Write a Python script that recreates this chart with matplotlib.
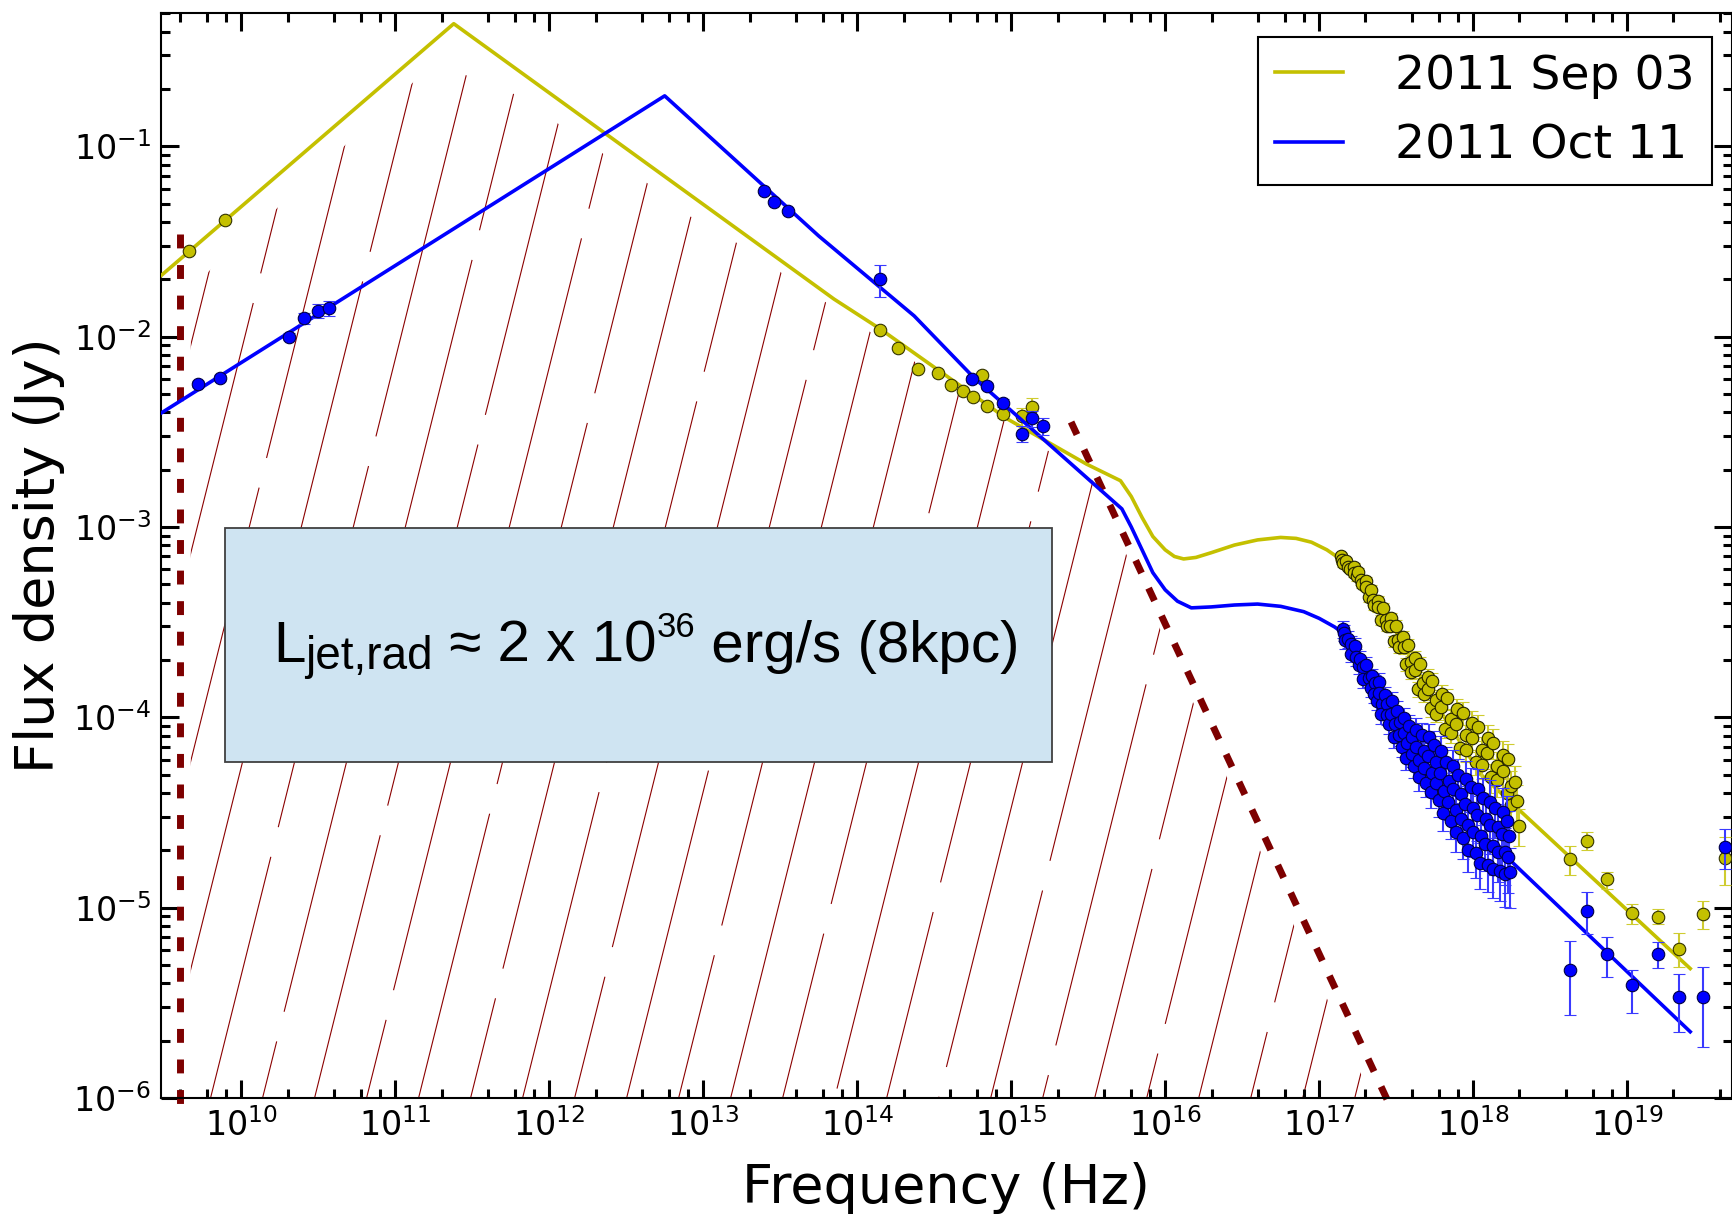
import numpy as np
import matplotlib
matplotlib.use('Agg')
from matplotlib import pyplot as plt
from matplotlib.patches import Polygon, Rectangle
from matplotlib.lines import Line2D
from matplotlib.ticker import LogLocator, NullFormatter

plt.rcParams['font.family'] = ['DejaVu Sans']
plt.rcParams['lines.scale_dashes'] = False

YEL = '#c4c000'
BLU = '#0000ff'
MAROON = '#7d0000'

#### model curves: log10(nu / Hz), log10(S / Jy) ####
sep_model_lognu = [9.477, 11.38, 13.85, 14.15, 14.97, 15.49, 15.71, 15.78, 15.85, 15.92, 16.0, 16.06,
                   16.12, 16.2, 16.3, 16.45, 16.6, 16.75, 16.85, 16.95, 17.05, 17.14, 17.22, 17.3,
                   17.5, 17.75, 18.05, 19.41]
sep_model_logS = [-1.681, -0.356, -1.803, -1.96, -2.43, -2.67, -2.757, -2.84, -2.95, -3.05, -3.12, -3.155,
                  -3.168, -3.16, -3.135, -3.095, -3.068, -3.055, -3.06, -3.08, -3.12, -3.17, -3.25, -3.34,
                  -3.55, -3.92, -4.30, -5.32]
oct_model_lognu = [9.477, 12.75, 13.75, 14.37, 14.756, 15.719, 15.78, 15.85, 15.92, 16.0, 16.08, 16.17,
                   16.3, 16.45, 16.6, 16.75, 16.9, 17.0, 17.1, 17.16, 17.4, 17.62, 17.85, 18.2, 19.41]
oct_model_logS = [-2.403, -0.735, -1.471, -1.891, -2.214, -2.905, -3.0, -3.12, -3.24, -3.33, -3.39, -3.425,
                  -3.42, -3.41, -3.405, -3.417, -3.445, -3.48, -3.525, -3.56, -3.89, -4.2, -4.47, -4.72, -5.652]

#### radio / IR / optical points ####
sep_nu = [4.6e9, 7.8e9, 1.41e14, 1.83e14, 2.47e14, 3.34e14, 4.06e14, 4.9e14, 5.64e14, 6.46e14,
          6.95e14, 8.83e14, 1.17e15, 1.36e15]
sep_S = [0.0282, 0.0409, 1.09e-2, 8.7e-3, 6.75e-3, 6.43e-3, 5.56e-3, 5.2e-3, 4.8e-3, 6.28e-3,
         4.34e-3, 3.92e-3, 3.81e-3, 4.25e-3]
sep_Serr = [1e-3, 1e-3, 2e-4, 2e-4, 1e-4, 1e-4, 1e-4, 1e-4, 1e-4, 2e-4, 1e-4, 2e-4, 4e-4, 5e-4]

oct_nu = [5.2e9, 7.3e9, 2.05e10, 2.54e10, 3.15e10, 3.7e10, 2.5e13, 2.9e13, 3.54e13, 1.4e14,
          5.6e14, 6.95e14, 8.83e14, 1.17e15, 1.36e15, 1.6e15]
oct_S = [5.64e-3, 6.05e-3, 1.0e-2, 1.25e-2, 1.37e-2, 1.41e-2, 0.058, 0.051, 0.0457, 0.020,
         5.98e-3, 5.48e-3, 4.48e-3, 3.08e-3, 3.72e-3, 3.4e-3]
oct_Serr = [2e-4, 2e-4, 4e-4, 8e-4, 1.2e-3, 1.3e-3, 1e-3, 1e-3, 1e-3, 3.8e-3,
            2e-4, 2e-4, 2e-4, 3e-4, 3.5e-4, 3.5e-4]

#### soft X-ray clouds (log10 values) ####
sep_sx_lognu = [17.145, 17.15, 17.158, 17.175, 17.19, 17.2, 17.225, 17.228, 17.245,
                17.255, 17.272, 17.276, 17.305, 17.302, 17.322, 17.338, 17.352, 17.357,
                17.385, 17.384, 17.405, 17.418, 17.436, 17.44, 17.465, 17.462, 17.484,
                17.496, 17.515, 17.518, 17.545, 17.548, 17.566, 17.575, 17.594, 17.598,
                17.625, 17.622, 17.645, 17.655, 17.675, 17.678, 17.705, 17.704, 17.726,
                17.735, 17.757, 17.758, 17.795, 17.793, 17.818, 17.832, 17.857, 17.858,
                17.895, 17.892, 17.918, 17.932, 17.957, 17.955, 17.995, 17.992, 18.018,
                18.032, 18.057, 18.055, 18.095, 18.092, 18.118, 18.132, 18.157, 18.155,
                18.195, 18.192, 18.218, 18.225, 18.245, 18.248, 18.275, 18.282, 18.30]
sep_sx_logS = [-3.155, -3.175, -3.19, -3.18, -3.21, -3.22, -3.21, -3.24, -3.26,
               -3.235, -3.28, -3.30, -3.285, -3.315, -3.37, -3.33, -3.385, -3.41,
               -3.39, -3.42, -3.49, -3.425, -3.49, -3.52, -3.48, -3.52, -3.60,
               -3.52, -3.595, -3.63, -3.58, -3.63, -3.72, -3.62, -3.71, -3.76,
               -3.69, -3.75, -3.85, -3.72, -3.82, -3.88, -3.79, -3.85, -3.95,
               -3.81, -3.91, -3.98, -3.875, -3.945, -4.06, -3.90, -4.01, -4.08,
               -3.955, -4.035, -4.16, -3.975, -4.095, -4.17, -4.03, -4.11, -4.235,
               -4.05, -4.17, -4.25, -4.11, -4.19, -4.315, -4.135, -4.255, -4.33,
               -4.20, -4.28, -4.40, -4.22, -4.36, -4.46, -4.34, -4.44, -4.57]
sep_sx_relerr = [0.04, 0.04, 0.05, 0.05, 0.05, 0.06, 0.06, 0.06, 0.07, 0.07, 0.08, 0.08, 0.09, 0.09,
                 0.10, 0.10, 0.11, 0.12, 0.13, 0.14, 0.15, 0.16, 0.17, 0.18, 0.19, 0.20, 0.22]
sep_sx_groupsize = [3] * 27

oct_sx_lognu = [17.152, 17.162, 17.168, 17.188, 17.205, 17.208, 17.232, 17.238, 17.256,
                17.268, 17.285, 17.288, 17.306, 17.322, 17.336,
                17.345, 17.362, 17.358, 17.376, 17.392, 17.388, 17.41, 17.405,
                17.425, 17.442, 17.44, 17.456, 17.472, 17.468, 17.49, 17.486,
                17.505, 17.522, 17.52, 17.536, 17.552, 17.548, 17.57, 17.566,
                17.585, 17.602, 17.6, 17.616, 17.632, 17.628, 17.65, 17.646,
                17.665, 17.682, 17.68, 17.696, 17.712, 17.708, 17.73, 17.726,
                17.745, 17.762, 17.76, 17.776, 17.792, 17.788, 17.81, 17.806,
                17.825, 17.842, 17.84, 17.856, 17.872, 17.868, 17.89, 17.886,
                17.905, 17.922, 17.92, 17.936, 17.952, 17.948, 17.97, 17.966,
                17.985, 18.002, 18.0, 18.016, 18.032, 18.028, 18.05, 18.046,
                18.065, 18.082, 18.08, 18.096, 18.112, 18.108, 18.13, 18.126,
                18.145, 18.162, 18.16, 18.176, 18.192, 18.188, 18.21, 18.206,
                18.222, 18.23, 18.228, 18.242]
oct_sx_logS = [-3.535, -3.555, -3.595, -3.59, -3.615, -3.665, -3.625, -3.685, -3.725,
               -3.695, -3.735, -3.80, -3.725, -3.795, -3.845,
               -3.785, -3.82, -3.88, -3.915, -3.815, -3.87, -3.93, -3.985,
               -3.885, -3.93, -3.99, -4.035, -3.915, -3.985, -4.035, -4.105,
               -3.965, -4.025, -4.095, -4.155, -4.005, -4.085, -4.135, -4.215,
               -4.045, -4.105, -4.195, -4.255, -4.065, -4.155, -4.225, -4.315,
               -4.095, -4.175, -4.265, -4.345, -4.105, -4.205, -4.295, -4.395,
               -4.145, -4.235, -4.345, -4.435, -4.175, -4.295, -4.385, -4.505,
               -4.235, -4.335, -4.445, -4.545, -4.255, -4.375, -4.485, -4.605,
               -4.305, -4.405, -4.535, -4.635, -4.325, -4.455, -4.565, -4.695,
               -4.365, -4.475, -4.605, -4.715, -4.375, -4.515, -4.625, -4.765,
               -4.425, -4.535, -4.665, -4.775, -4.445, -4.565, -4.675, -4.795,
               -4.475, -4.575, -4.705, -4.805, -4.495, -4.615, -4.705, -4.825,
               -4.545, -4.625, -4.735, -4.815]
oct_sx_relerr = [0.10, 0.10, 0.10, 0.10, 0.10, 0.10, 0.11, 0.11, 0.12, 0.12, 0.13, 0.14, 0.15, 0.16,
                 0.17, 0.18, 0.19, 0.20, 0.21, 0.22, 0.24, 0.26, 0.27, 0.28, 0.30, 0.31, 0.33, 0.35]
oct_sx_groupsize = [3] * 5 + [4] * 23

#### hard X-ray points ####
sep_hx_nu = [4.23e18, 5.47e18, 7.38e18, 1.07e19, 1.58e19, 2.18e19, 3.13e19, 4.33e19]
sep_hx_S = [1.81e-5, 2.25e-5, 1.41e-5, 9.4e-6, 8.9e-6, 6.1e-6, 9.3e-6, 1.83e-5]
sep_hx_lo = [1.48e-5, 2.0e-5, 1.26e-5, 8.2e-6, 8.2e-6, 4.9e-6, 7.7e-6, 1.31e-5]
sep_hx_hi = [2.12e-5, 2.49e-5, 1.54e-5, 1.05e-5, 9.8e-6, 7.4e-6, 1.09e-5, 2.35e-5]

oct_hx_nu = [4.23e18, 5.47e18, 7.45e18, 1.07e19, 1.58e19, 2.18e19, 3.13e19, 4.33e19]
oct_hx_S = [4.7e-6, 9.6e-6, 5.7e-6, 3.9e-6, 5.7e-6, 3.4e-6, 3.4e-6, 2.08e-5]
oct_hx_lo = [2.72e-6, 7.3e-6, 4.3e-6, 2.78e-6, 4.8e-6, 2.22e-6, 1.86e-6, 1.6e-5]
oct_hx_hi = [6.7e-6, 1.21e-5, 7.0e-6, 4.7e-6, 6.6e-6, 4.5e-6, 4.9e-6, 2.6e-5]

#### jet region, cut-off lines ####
hatch_nu = [4.7e9, 4.7e9, 2.2e11, 3.4e15, 2.2e17]
hatch_S = [1e-6, 0.018, 0.32, 1.75e-3, 1e-6]
vcut_nu = [4e9, 4e9]
vcut_S = [0.0345, 8.6e-7]
dcut_nu = [2.45e15, 2.85e17]
dcut_S = [3.56e-3, 9.3e-7]

legend_labels = ['2011 Sep 03', '2011 Oct 11']

fig = plt.figure(figsize=(17.32, 12.15), dpi=100)
ax = fig.add_axes([0.0928, 0.0963, 0.9072, 0.8928])
ax.set_xscale('log')
ax.set_yscale('log')

# hatched jet region: thin slanted lines clipped to the polygon
hatch_poly = Polygon(np.column_stack([hatch_nu, hatch_S]), closed=True, transform=ax.transData,
                     facecolor='none', edgecolor='none')
ax.add_patch(hatch_poly)
for k, x0 in enumerate(np.arange(-0.2, 0.9, 0.0331)):
    ln = Line2D([x0, x0 + 0.1726], [0, 1], transform=ax.transAxes, color='#8b0000', lw=0.8,
                linestyle=((k * 137) % 290, (268, 22)), zorder=1)
    ax.add_line(ln)
    ln.set_clip_path(hatch_poly)

ax.plot(vcut_nu, vcut_S, color=MAROON, lw=5, linestyle=(0, (10, 12)), clip_on=False, zorder=2)
ax.plot(dcut_nu, dcut_S, color=MAROON, lw=5, linestyle=(0, (10, 12)), clip_on=False, zorder=2)

# 2011 Sep 03
ax.plot(10 ** np.array(sep_model_lognu), 10 ** np.array(sep_model_logS), color=YEL, lw=2.6,
        zorder=3, label=legend_labels[0])
sx_S = 10 ** np.array(sep_sx_logS)
ax.errorbar(10 ** np.array(sep_sx_lognu), sx_S, yerr=np.repeat(sep_sx_relerr, sep_sx_groupsize) * sx_S,
            fmt='o', ms=9, mfc=YEL, mec='#222200', mew=0.8, ecolor='#cfcc30', elinewidth=1.5,
            capsize=4, capthick=1.5, zorder=3.5)
ax.errorbar(sep_nu, sep_S, yerr=sep_Serr, fmt='o', ms=9, mfc=YEL, mec='#333300', mew=0.8,
            ecolor='#cfcc30', elinewidth=1.5, capsize=4, capthick=1.5, zorder=3.5)
ax.errorbar(sep_hx_nu, sep_hx_S,
            yerr=[np.array(sep_hx_S) - np.array(sep_hx_lo), np.array(sep_hx_hi) - np.array(sep_hx_S)],
            fmt='o', ms=9, mfc=YEL, mec='#333300', mew=0.8, ecolor='#cfcc30', elinewidth=1.5,
            capsize=4, capthick=1.5, zorder=3.5, clip_on=False)

# 2011 Oct 11
ax.plot(10 ** np.array(oct_model_lognu), 10 ** np.array(oct_model_logS), color=BLU, lw=2.6,
        zorder=4, label=legend_labels[1])
sx_S = 10 ** np.array(oct_sx_logS)
ax.errorbar(10 ** np.array(oct_sx_lognu), sx_S, yerr=np.repeat(oct_sx_relerr, oct_sx_groupsize) * sx_S,
            fmt='o', ms=9, mfc=BLU, mec='#000044', mew=0.8, ecolor='#3a3aff', elinewidth=1.5,
            capsize=4, capthick=1.5, zorder=4.5)
ax.errorbar(oct_nu, oct_S, yerr=oct_Serr, fmt='o', ms=9, mfc=BLU, mec='#000044', mew=0.8,
            ecolor='#3a3aff', elinewidth=1.5, capsize=4, capthick=1.5, zorder=4.5)
ax.errorbar(oct_hx_nu, oct_hx_S,
            yerr=[np.array(oct_hx_S) - np.array(oct_hx_lo), np.array(oct_hx_hi) - np.array(oct_hx_S)],
            fmt='o', ms=9, mfc=BLU, mec='#000044', mew=0.8, ecolor='#3a3aff', elinewidth=1.5,
            capsize=4, capthick=1.5, zorder=4.5, clip_on=False)

# luminosity box
ax.add_patch(Rectangle((0.0407, 0.3098), 0.5263, 0.2157, transform=ax.transAxes,
                       facecolor='#cfe4f2', edgecolor='#404040', lw=1.3, zorder=5))

ax.set_xlim(3e9, 4.8e19)
ax.set_ylim(1e-6, 0.5)

ax.xaxis.set_major_locator(LogLocator(base=10, numticks=30))
ax.xaxis.set_minor_locator(LogLocator(base=10, subs=(2, 4, 6, 8), numticks=30))
ax.yaxis.set_major_locator(LogLocator(base=10, numticks=30))
ax.yaxis.set_minor_locator(LogLocator(base=10, subs=np.arange(2, 10), numticks=30))
ax.xaxis.set_minor_formatter(NullFormatter())
ax.yaxis.set_minor_formatter(NullFormatter())

ax.tick_params(which='both', direction='in', top=True, right=True, width=2.2, labelsize=24, pad=7)
ax.tick_params(which='major', length=13.3)
ax.tick_params(which='minor', length=6.8)
for sp in ax.spines.values():
    sp.set_linewidth(1.5)

ax.set_xlabel('Frequency (Hz)', fontsize=39)
ax.set_ylabel('Flux density (Jy)', fontsize=39)
ax.xaxis.set_label_coords(0.5, -0.059)
ax.yaxis.set_label_coords(-0.061, 0.5)

leg = ax.legend(loc='upper right', bbox_to_anchor=(0.987, 0.978), fontsize=34, fancybox=False,
                edgecolor='black', framealpha=1, handlelength=1.45, handletextpad=1.1,
                borderpad=0.35, labelspacing=0.52, borderaxespad=0)
leg.get_frame().set_linewidth(1.5)

# L_jet,rad text built piece by piece (large subscript, small superscript)
fig.canvas.draw()
rend = fig.canvas.get_renderer()
W, H = fig.bbox.width, fig.bbox.height
pieces = [('L', 42, 0), ('jet,rad', 33, -7), (' \u2248 2 x 10', 42, 0), ('36', 25, 25),
          (' erg/s (8kpc)', 42, 0)]
xpos = 273.0
base = H - 662.0
for txt, size, dy in pieces:
    t = fig.text(xpos / W, (base + dy) / H, txt, fontsize=size, family='Liberation Sans',
                 ha='left', va='baseline', zorder=10)
    xpos = t.get_window_extent(rend).x1

fig.savefig('out.png', dpi=100)
